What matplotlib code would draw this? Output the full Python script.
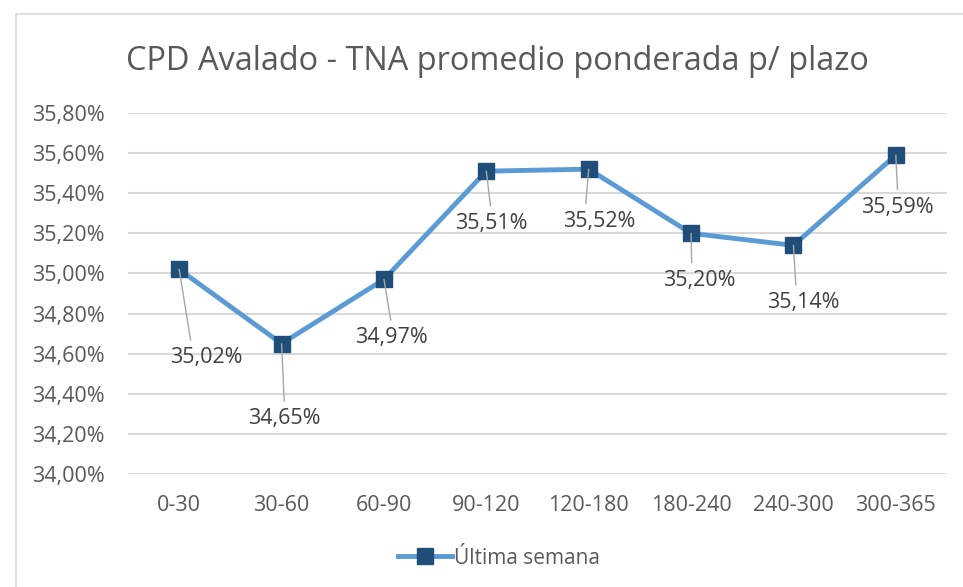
import matplotlib.pyplot as plt
from matplotlib.patches import Rectangle
from matplotlib.lines import Line2D

plt.rcParams['font.family'] = ['Open Sans', 'DejaVu Sans']

# Data
plazos = ['0-30', '30-60', '60-90', '90-120', '120-180', '180-240', '240-300', '300-365']
tna = [35.02, 34.65, 34.97, 35.51, 35.52, 35.20, 35.14, 35.59]
y_ticks = [34.0, 34.2, 34.4, 34.6, 34.8, 35.0, 35.2, 35.4, 35.6, 35.8]

# label offsets in pixels (dx, dy) from the marker, and leader attachment on the label
label_offsets = [(27, -88), (3, -75), (8, -58), (5, -52), (11, -52), (8, -47), (10, -57), (2, -52)]
label_relpos = [(0.3, 1.0), (0.5, 1.0), (0.5, 1.0), (0.5, 1.0), (0.3, 1.0), (0.4, 1.0), (0.4, 1.0), (0.5, 1.0)]

W, H = 963, 587
fig = plt.figure(figsize=(W / 100, H / 100), dpi=100)

# chart border (Excel style)
fig.patches.append(Rectangle((16 / W, -0.1), 1.2, 1 - 14 / H + 0.1, transform=fig.transFigure,
                             fill=False, edgecolor='#D9D9D9', linewidth=1.2))

ax = fig.add_axes([128 / W, (H - 474) / H, 819 / W, 361 / H])
ax.plot(range(len(plazos)), tna, color='#5B9BD5', linewidth=3.5, marker='s',
        markersize=11, markerfacecolor='#1F4E79', markeredgecolor='#1F4E79', zorder=3)

for i, v in enumerate(tna):
    lbl = f'{v:.2f}'.replace('.', ',') + '%'
    ax.annotate(lbl, xy=(i, v), xytext=label_offsets[i], textcoords='offset pixels',
                ha='center', va='center', fontsize=15.5, color='#404040',
                arrowprops=dict(arrowstyle='-', color='#A6A6A6', linewidth=1,
                                relpos=label_relpos[i], shrinkA=3, shrinkB=0))

ax.set_xlim(-0.5, len(plazos) - 0.5)
ax.set_ylim(34.0, 35.8)
ax.set_yticks(y_ticks)
ax.set_yticklabels([f'{t:.2f}'.replace('.', ',') + '%' for t in y_ticks])
ax.set_xticks(range(len(plazos)))
ax.set_xticklabels(plazos)
ax.tick_params(axis='both', length=0, labelsize=15.5, labelcolor='#595959')
ax.tick_params(axis='y', pad=17)
ax.tick_params(axis='x', pad=15)
ax.grid(axis='y', color='#D9D9D9', linewidth=1.5)
ax.set_axisbelow(True)
for s in ax.spines.values():
    s.set_visible(False)

fig.text(497 / W, 1 - 62 / H, 'CPD Avalado - TNA promedio ponderada p/ plazo',
         ha='center', va='center', fontsize=23.4, color='#595959')

handle = Line2D([], [], color='#5B9BD5', linewidth=3.5, marker='s', markersize=11,
                markerfacecolor='#1F4E79', markeredgecolor='#1F4E79')
fig.legend([handle], ['Última semana'], loc='center', bbox_to_anchor=(499 / W, 1 - 558 / H),
           frameon=False, fontsize=15, labelcolor='#595959', handlelength=2.6,
           handletextpad=0.1)

fig.savefig('out.png', dpi=100)
